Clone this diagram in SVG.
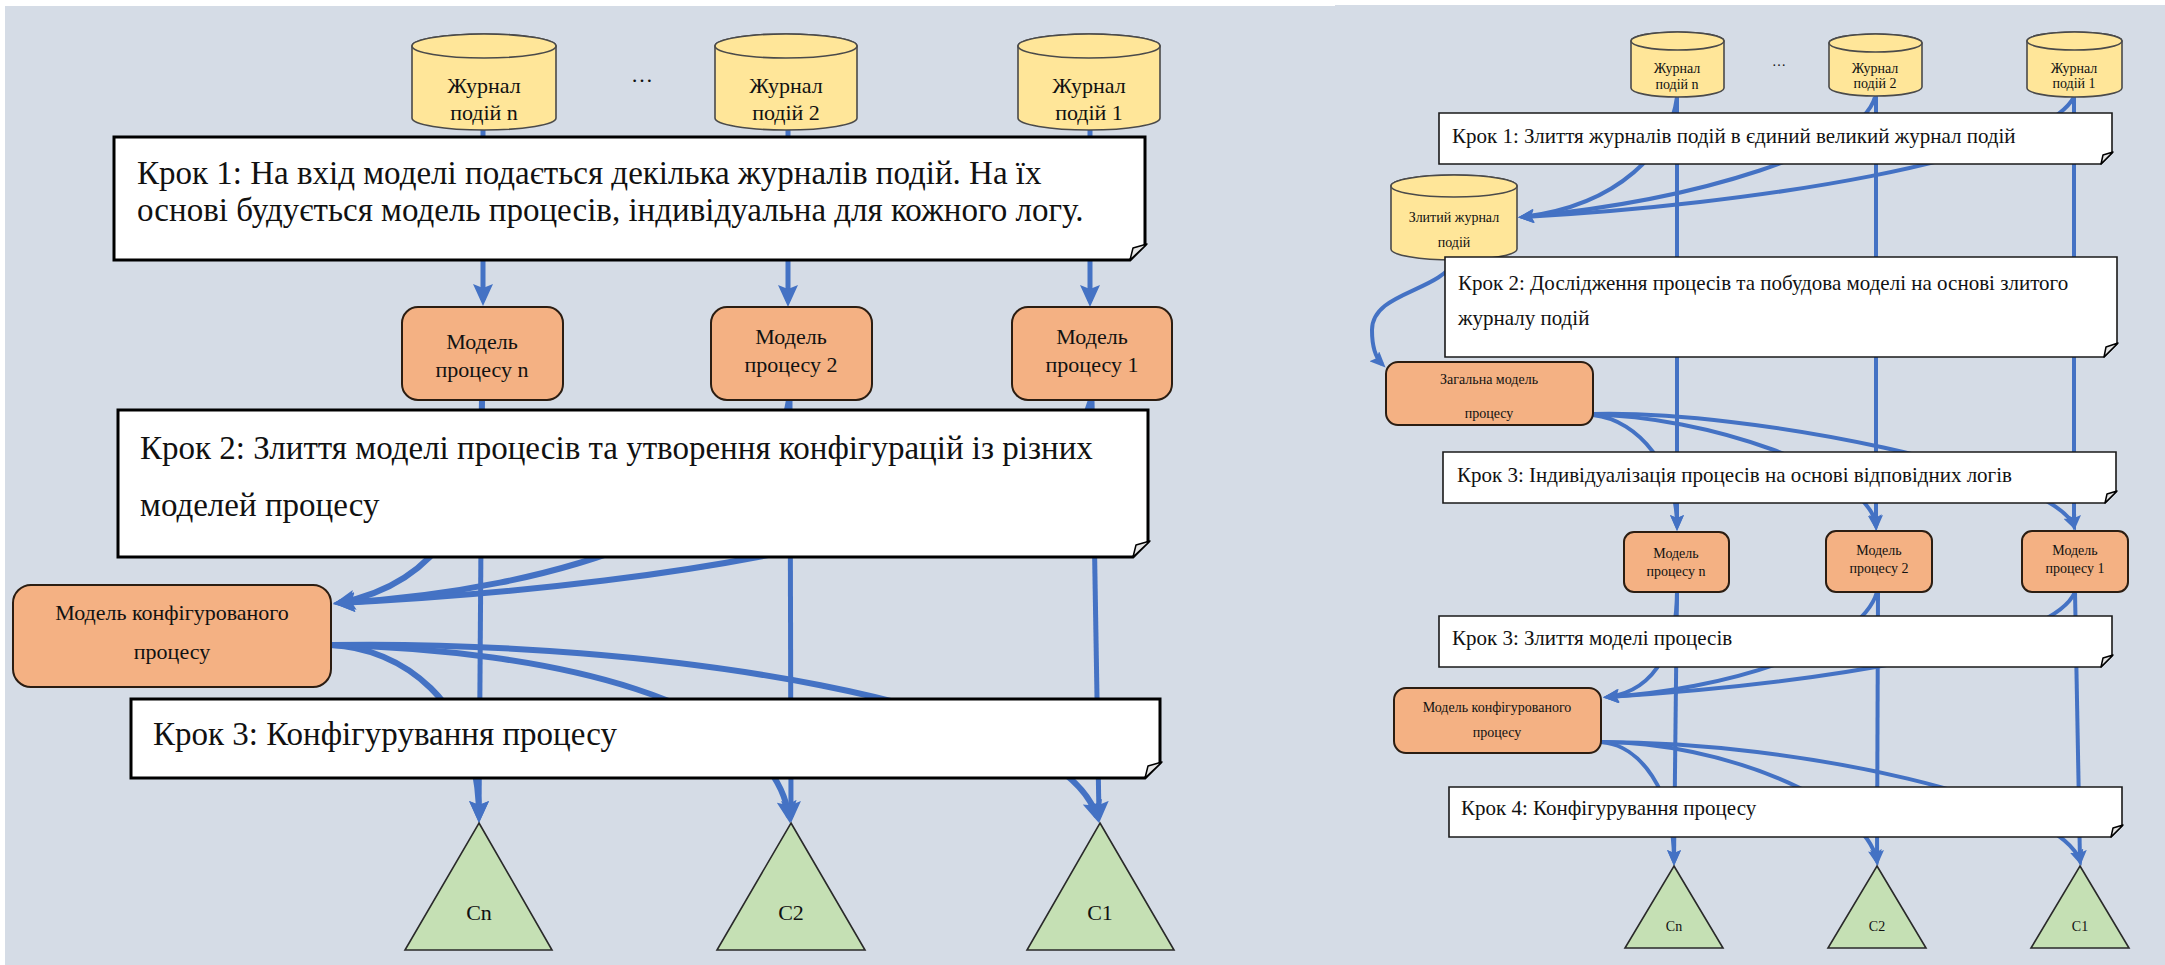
<svg xmlns="http://www.w3.org/2000/svg" width="2165" height="965" viewBox="0 0 2165 965">
  <style>
    .bg { fill: #d5dce6; }
    .note { fill: #ffffff; stroke: #000000; stroke-width: 3; stroke-linejoin: miter; }
    .note-s { fill: #ffffff; stroke: #1a1a1a; stroke-width: 1.6; }
    .fold { fill: #e6e6e6; stroke: #000000; stroke-width: 1.5; stroke-linejoin: round; }
    .db { fill: #ffe699; stroke: #4a4a4a; stroke-width: 1.6; }
    .model { fill: #f4b183; stroke: #2b1d12; stroke-width: 2; }
    .conf { fill: #c5e0b4; stroke: #2a2a2a; stroke-width: 1.6; }
    .t { font-family: "Liberation Serif", "Times New Roman", serif; fill: #111111; }
    .lg { font-size: 33px; }
    .md { font-size: 22px; }
    .sm { font-size: 21px; }
    .xs { font-size: 14px; }
    .c { text-anchor: middle; }
    .wire { fill: none; stroke: #4472c4; stroke-width: 5; }
    .wire-s { fill: none; stroke: #4472c4; stroke-width: 4; }
    .wire-c { fill: none; stroke: #4472c4; stroke-width: 6; }
  </style>
  <defs>
    <marker id="ahL" viewBox="0 0 22 20" markerWidth="22" markerHeight="20" refX="16" refY="10" orient="auto" markerUnits="userSpaceOnUse">
      <path d="M0,0 L22,10 L0,20 L4,10 Z" fill="#4472c4"/>
    </marker>
    <marker id="ahS" viewBox="0 0 16 14" markerWidth="16" markerHeight="14" refX="11" refY="7" orient="auto" markerUnits="userSpaceOnUse">
      <path d="M0,0 L16,7 L0,14 L3,7 Z" fill="#4472c4"/>
    </marker>
  </defs>

  <!-- canvas -->
  <rect x="0" y="0" width="2165" height="965" fill="#ffffff"/>
  <rect class="bg" x="5" y="6" width="1330" height="959"/>
  <rect class="bg" x="1335" y="5" width="830" height="960"/>

  <!-- ===== connectors ===== -->
  <g id="connectors">
    <!-- left: logs to per-log models -->
    <path class="wire" d="M483 130 V300" marker-end="url(#ahL)"/>
    <path class="wire" d="M788 130 V301" marker-end="url(#ahL)"/>
    <path class="wire" d="M1090 130 V301" marker-end="url(#ahL)"/>
    <!-- left: models straight down to configurations -->
    <path class="wire" d="M482 400 L479 817" marker-end="url(#ahL)"/>
    <path class="wire" d="M790 400 L791 817" marker-end="url(#ahL)"/>
    <path class="wire" d="M1092 400 L1099 817" marker-end="url(#ahL)"/>
    <!-- left: models merged into configurable model -->
    <path class="wire-c" d="M482 400 C482 500, 445 582, 339 603" marker-end="url(#ahL)"/>
    <path class="wire-c" d="M789 400 C770 520, 560 590, 339 603" marker-end="url(#ahL)"/>
    <path class="wire-c" d="M1091 400 C1060 520, 700 585, 339 603" marker-end="url(#ahL)"/>
    <!-- left: configurable model to configurations -->
    <path class="wire-c" d="M331 645 C400 648, 479 700, 479 817" marker-end="url(#ahL)"/>
    <path class="wire-c" d="M331 645 C550 650, 772 700, 789 817" marker-end="url(#ahL)"/>
    <path class="wire-c" d="M331 645 C650 640, 1062 700, 1097 817" marker-end="url(#ahL)"/>

    <!-- right: logs straight down to individual models -->
    <path class="wire-s" d="M1677 97 V526" marker-end="url(#ahS)"/>
    <path class="wire-s" d="M1876 96 V526" marker-end="url(#ahS)"/>
    <path class="wire-s" d="M2074 97 V526" marker-end="url(#ahS)"/>
    <!-- right: individual models down to configurations -->
    <path class="wire-s" d="M1677 592 L1674 861" marker-end="url(#ahS)"/>
    <path class="wire-s" d="M1878 592 L1877 861" marker-end="url(#ahS)"/>
    <path class="wire-s" d="M2075 592 L2080 861" marker-end="url(#ahS)"/>
    <!-- right: logs merged into one log -->
    <path class="wire-s" d="M1677 97 C1670 150, 1620 205, 1523 217" marker-end="url(#ahS)"/>
    <path class="wire-s" d="M1875 97 C1860 150, 1700 200, 1523 217" marker-end="url(#ahS)"/>
    <path class="wire-s" d="M2074 97 C2040 160, 1750 205, 1523 217" marker-end="url(#ahS)"/>
    <!-- right: merged log to general model -->
    <path class="wire-s" d="M1455 260 C1440 292, 1372 292, 1372 330 C1372 348, 1376 358, 1382 364" marker-end="url(#ahS)"/>
    <!-- right: general model to individual models -->
    <path class="wire-s" d="M1593 415 C1640 420, 1677 470, 1677 526" marker-end="url(#ahS)"/>
    <path class="wire-s" d="M1593 415 C1700 415, 1870 470, 1876 526" marker-end="url(#ahS)"/>
    <path class="wire-s" d="M1593 414 C1750 410, 2050 470, 2074 526" marker-end="url(#ahS)"/>
    <!-- right: individual models merged into configurable model -->
    <path class="wire-s" d="M1677 592 C1677 640, 1660 690, 1608 697" marker-end="url(#ahS)"/>
    <path class="wire-s" d="M1877 592 C1860 650, 1720 690, 1608 697" marker-end="url(#ahS)"/>
    <path class="wire-s" d="M2075 592 C2050 650, 1800 685, 1608 697" marker-end="url(#ahS)"/>
    <!-- right: configurable model to configurations -->
    <path class="wire-s" d="M1601 742 C1640 745, 1674 790, 1674 861" marker-end="url(#ahS)"/>
    <path class="wire-s" d="M1601 742 C1720 742, 1865 800, 1877 861" marker-end="url(#ahS)"/>
    <path class="wire-s" d="M1601 742 C1800 742, 2060 800, 2080 861" marker-end="url(#ahS)"/>
  </g>

  <!-- ===== left scheme ===== -->
  <g id="L-log-n">
    <path class="db" d="M412 46 A72 12 0 0 1 556 46 V118 A72 12 0 0 1 412 118 Z"/>
    <ellipse class="db" cx="484" cy="46" rx="72" ry="12"/>
    <text class="t md c" x="484" y="93">Журнал</text>
    <text class="t md c" x="484" y="120">подій n</text>
  </g>
  <g id="L-dots"><text class="t md c" x="642" y="82">…</text></g>
  <g id="L-log-2">
    <path class="db" d="M715 46 A71 12 0 0 1 857 46 V118 A71 12 0 0 1 715 118 Z"/>
    <ellipse class="db" cx="786" cy="46" rx="71" ry="12"/>
    <text class="t md c" x="786" y="93">Журнал</text>
    <text class="t md c" x="786" y="120">подій 2</text>
  </g>
  <g id="L-log-1">
    <path class="db" d="M1018 46 A71 12 0 0 1 1160 46 V118 A71 12 0 0 1 1018 118 Z"/>
    <ellipse class="db" cx="1089" cy="46" rx="71" ry="12"/>
    <text class="t md c" x="1089" y="93">Журнал</text>
    <text class="t md c" x="1089" y="120">подій 1</text>
  </g>

  <g id="L-step1">
    <path class="note" d="M114 137 H1145 V245 L1130 260 H114 Z"/>
    <path class="fold" d="M1130 260 L1133 248 L1147 244 Z"/>
    <text class="t lg" x="137" y="184">Крок 1: На вхід моделі подається декілька журналів подій. На їх</text>
    <text class="t lg" x="137" y="221">основі будується модель процесів, індивідуальна для кожного логу.</text>
  </g>

  <g id="L-model-n">
    <rect class="model" x="402" y="307" width="161" height="93" rx="16"/>
    <text class="t md c" x="482" y="349">Модель</text>
    <text class="t md c" x="482" y="377">процесу n</text>
  </g>
  <g id="L-model-2">
    <rect class="model" x="711" y="307" width="161" height="93" rx="16"/>
    <text class="t md c" x="791" y="344">Модель</text>
    <text class="t md c" x="791" y="372">процесу 2</text>
  </g>
  <g id="L-model-1">
    <rect class="model" x="1012" y="307" width="160" height="93" rx="16"/>
    <text class="t md c" x="1092" y="344">Модель</text>
    <text class="t md c" x="1092" y="372">процесу 1</text>
  </g>

  <g id="L-step2">
    <path class="note" d="M118 410 H1148 V542 L1133 557 H118 Z"/>
    <path class="fold" d="M1133 557 L1136 545 L1150 541 Z"/>
    <text class="t lg" x="140" y="459">Крок 2: Злиття моделі процесів та утворення конфігурацій із різних</text>
    <text class="t lg" x="140" y="516">моделей процесу</text>
  </g>

  <g id="L-config-model">
    <rect class="model" x="13" y="585" width="318" height="102" rx="18"/>
    <text class="t md c" x="172" y="620">Модель конфігурованого</text>
    <text class="t md c" x="172" y="659">процесу</text>
  </g>

  <g id="L-step3">
    <path class="note" d="M131 699 H1160 V763 L1145 778 H131 Z"/>
    <path class="fold" d="M1145 778 L1148 766 L1162 762 Z"/>
    <text class="t lg" x="153" y="745">Крок 3: Конфігурування процесу</text>
  </g>

  <g id="L-cn">
    <path class="conf" d="M479 823 L552 950 H405 Z"/>
    <text class="t md c" x="479" y="920">Cn</text>
  </g>
  <g id="L-c2">
    <path class="conf" d="M791 823 L865 950 H717 Z"/>
    <text class="t md c" x="791" y="920">C2</text>
  </g>
  <g id="L-c1">
    <path class="conf" d="M1100 823 L1174 950 H1027 Z"/>
    <text class="t md c" x="1100" y="920">C1</text>
  </g>

  <!-- ===== right scheme ===== -->
  <g id="R-log-n">
    <path class="db" d="M1631 41 A46.5 9 0 0 1 1724 41 V88 A46.5 9 0 0 1 1631 88 Z"/>
    <ellipse class="db" cx="1677.5" cy="41" rx="46.5" ry="9"/>
    <text class="t xs c" x="1677" y="73">Журнал</text>
    <text class="t xs c" x="1677" y="89">подій n</text>
  </g>
  <g id="R-dots"><text class="t xs c" x="1779" y="66">…</text></g>
  <g id="R-log-2">
    <path class="db" d="M1829 43 A46.5 9 0 0 1 1922 43 V87 A46.5 9 0 0 1 1829 87 Z"/>
    <ellipse class="db" cx="1875.5" cy="43" rx="46.5" ry="9"/>
    <text class="t xs c" x="1875" y="73">Журнал</text>
    <text class="t xs c" x="1875" y="88">подій 2</text>
  </g>
  <g id="R-log-1">
    <path class="db" d="M2027 41 A47.5 9 0 0 1 2122 41 V88 A47.5 9 0 0 1 2027 88 Z"/>
    <ellipse class="db" cx="2074.5" cy="41" rx="47.5" ry="9"/>
    <text class="t xs c" x="2074" y="73">Журнал</text>
    <text class="t xs c" x="2074" y="88">подій 1</text>
  </g>

  <g id="R-step1">
    <path class="note-s" d="M1439 113 H2112 V153 L2101 164 H1439 Z"/>
    <path class="fold" d="M2101 164 L2103 155 L2113 152 Z"/>
    <text class="t sm" x="1452" y="143">Крок 1: Злиття журналів подій в єдиний великий журнал подій</text>
  </g>

  <g id="R-merged-log">
    <path class="db" d="M1391 186 A63 11 0 0 1 1517 186 V249 A63 11 0 0 1 1391 249 Z"/>
    <ellipse class="db" cx="1454" cy="186" rx="63" ry="11"/>
    <text class="t xs c" x="1454" y="222">Злитий журнал</text>
    <text class="t xs c" x="1454" y="247">подій</text>
  </g>

  <g id="R-step2">
    <path class="note-s" d="M1445 257 H2117 V344 L2104 357 H1445 Z"/>
    <path class="fold" d="M2104 357 L2106 347 L2118 343 Z"/>
    <text class="t sm" x="1458" y="290">Крок 2: Дослідження процесів та побудова моделі на основі злитого</text>
    <text class="t sm" x="1458" y="325">журналу подій</text>
  </g>

  <g id="R-general-model">
    <rect class="model" x="1386" y="362" width="207" height="63" rx="12"/>
    <text class="t xs c" x="1489" y="384">Загальна модель</text>
    <text class="t xs c" x="1489" y="418">процесу</text>
  </g>

  <g id="R-step3">
    <path class="note-s" d="M1443 452 H2116 V492 L2105 503 H1443 Z"/>
    <path class="fold" d="M2105 503 L2107 494 L2117 491 Z"/>
    <text class="t sm" x="1457" y="482">Крок 3: Індивідуалізація процесів на основі відповідних логів</text>
  </g>

  <g id="R-model-n">
    <rect class="model" x="1624" y="532" width="105" height="60" rx="10"/>
    <text class="t xs c" x="1676" y="558">Модель</text>
    <text class="t xs c" x="1676" y="576">процесу n</text>
  </g>
  <g id="R-model-2">
    <rect class="model" x="1826" y="531" width="106" height="61" rx="10"/>
    <text class="t xs c" x="1879" y="555">Модель</text>
    <text class="t xs c" x="1879" y="573">процесу 2</text>
  </g>
  <g id="R-model-1">
    <rect class="model" x="2022" y="531" width="106" height="61" rx="10"/>
    <text class="t xs c" x="2075" y="555">Модель</text>
    <text class="t xs c" x="2075" y="573">процесу 1</text>
  </g>

  <g id="R-step3b">
    <path class="note-s" d="M1439 616 H2112 V656 L2101 667 H1439 Z"/>
    <path class="fold" d="M2101 667 L2103 658 L2113 655 Z"/>
    <text class="t sm" x="1452" y="645">Крок 3: Злиття моделі процесів</text>
  </g>

  <g id="R-config-model">
    <rect class="model" x="1394" y="688" width="207" height="65" rx="12"/>
    <text class="t xs c" x="1497" y="712">Модель конфігурованого</text>
    <text class="t xs c" x="1497" y="737">процесу</text>
  </g>

  <g id="R-step4">
    <path class="note-s" d="M1449 787 H2122 V826 L2111 837 H1449 Z"/>
    <path class="fold" d="M2111 837 L2113 828 L2123 825 Z"/>
    <text class="t sm" x="1461" y="815">Крок 4: Конфігурування процесу</text>
  </g>

  <g id="R-cn">
    <path class="conf" d="M1674 866 L1723 948 H1625 Z"/>
    <text class="t xs c" x="1674" y="931">Cn</text>
  </g>
  <g id="R-c2">
    <path class="conf" d="M1877 866 L1926 948 H1828 Z"/>
    <text class="t xs c" x="1877" y="931">C2</text>
  </g>
  <g id="R-c1">
    <path class="conf" d="M2080 866 L2129 948 H2031 Z"/>
    <text class="t xs c" x="2080" y="931">C1</text>
  </g>
</svg>
